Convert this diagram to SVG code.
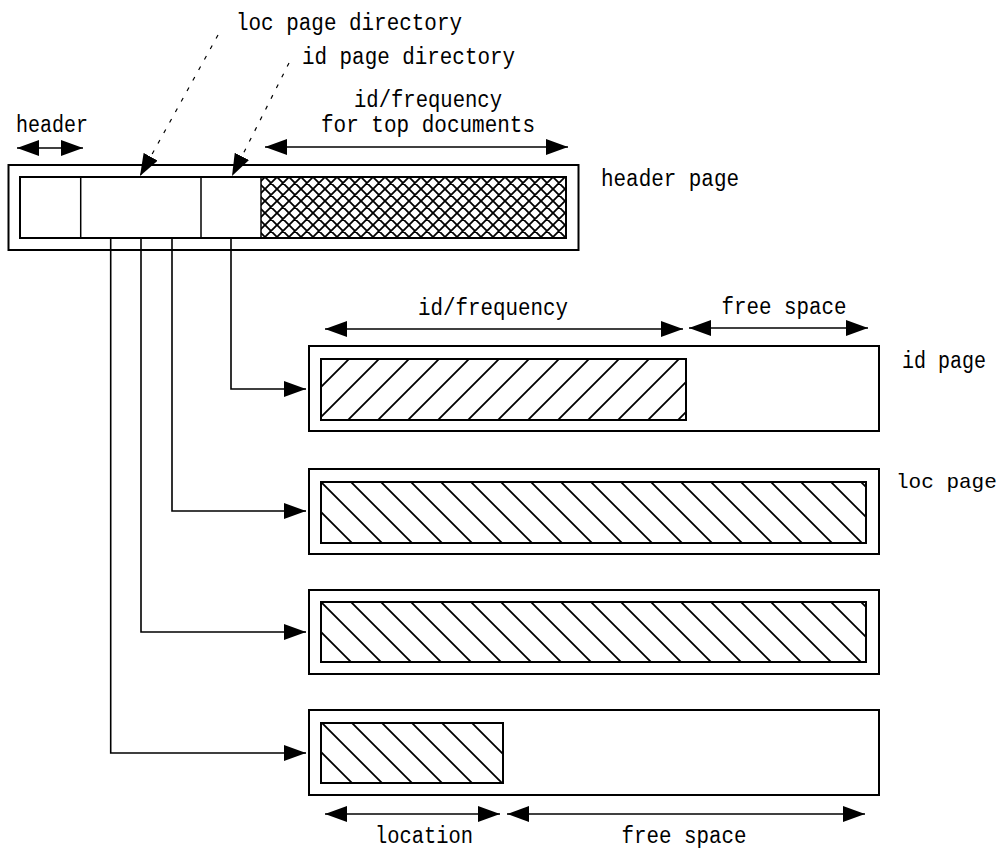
<svg xmlns="http://www.w3.org/2000/svg" width="1001" height="850" viewBox="0 0 1001 850">
  <style>
    .box { fill: #fff; stroke: #000; stroke-width: 2; }
    .inner { stroke: #000; stroke-width: 2; }
    .div { stroke: #000; stroke-width: 1.5; }
    .conn { fill: none; stroke: #000; stroke-width: 1.6; }
    .dim { stroke: #000; stroke-width: 1.5; marker-start: url(#ah); marker-end: url(#ah); }
    .dash { stroke: #000; stroke-width: 1.2; stroke-dasharray: 4 8; marker-end: url(#ah); }
    .lbl { font-family: "Liberation Mono", "DejaVu Sans Mono", monospace; font-size: 23px; fill: #000; }
  </style>
  <defs>
    <marker id="ah" viewBox="0 0 22 16" refX="22" refY="8" markerWidth="22" markerHeight="16" markerUnits="userSpaceOnUse" orient="auto-start-reverse">
      <path d="M0,0 L22,8 L0,16 z" fill="#000" stroke="none"/>
    </marker>
    <pattern id="fwd" patternUnits="userSpaceOnUse" x="18" y="0" width="30" height="30">
      <path d="M-5,35 L35,-5 M-5,5 L5,-5 M25,35 L35,25" stroke="#000" stroke-width="1.8"/>
    </pattern>
    <pattern id="back" patternUnits="userSpaceOnUse" x="19" y="0" width="30" height="30">
      <path d="M-5,-5 L35,35 M25,-5 L35,5 M-5,25 L5,35" stroke="#000" stroke-width="1.8"/>
    </pattern>
    <pattern id="cross" patternUnits="userSpaceOnUse" x="1" y="177" width="12" height="12">
      <path d="M-3,-3 L15,15 M-3,15 L15,-3 M9,-3 L15,3 M-3,9 L3,15 M9,15 L15,9 M-3,3 L3,-3" stroke="#000" stroke-width="1.8"/>
    </pattern>
  </defs>

  <g id="header-page">
    <rect class="box" x="8.5" y="165" width="570" height="85"/>
    <rect x="261" y="177" width="305" height="61" fill="url(#cross)"/>
    <rect class="inner" x="20" y="177" width="546" height="61" fill="none"/>
    <line class="div" x1="80.7" y1="177" x2="80.7" y2="238"/>
    <line class="div" x1="201" y1="177" x2="201" y2="238"/>
    <line class="div" x1="261" y1="177" x2="261" y2="238"/>
    <text class="lbl" x="601" y="186" textLength="138" lengthAdjust="spacingAndGlyphs">header page</text>
  </g>

  <g id="id-page">
    <rect class="box" x="309" y="346" width="570" height="85"/>
    <rect class="inner" x="321" y="359" width="365" height="61" fill="url(#fwd)"/>
    <text class="lbl" x="902" y="368" textLength="84" lengthAdjust="spacingAndGlyphs">id page</text>
  </g>

  <g id="loc-page-1">
    <rect class="box" x="309" y="469" width="570" height="85"/>
    <rect class="inner" x="321" y="482" width="545" height="61" fill="url(#back)"/>
    <text class="lbl" x="896" y="488" style="font-size:21px">loc page</text>
  </g>

  <g id="loc-page-2">
    <rect class="box" x="309" y="590" width="570" height="84"/>
    <rect class="inner" x="321" y="602" width="545" height="60" fill="url(#back)"/>
  </g>

  <g id="loc-page-3">
    <rect class="box" x="309" y="710" width="570" height="85"/>
    <rect class="inner" x="321" y="723" width="182" height="60" fill="url(#back)"/>
  </g>

  <g id="connectors">
    <path class="conn" d="M231,238 V389 H285"/>
    <path class="conn" d="M172,238 V511 H285"/>
    <path class="conn" d="M141,238 V632 H285"/>
    <path class="conn" d="M110.7,238 V753 H285"/>
    <line x1="284" y1="389" x2="306" y2="389" stroke="#000" stroke-width="1.6" marker-end="url(#ah)"/>
    <line x1="284" y1="511" x2="306" y2="511" stroke="#000" stroke-width="1.6" marker-end="url(#ah)"/>
    <line x1="284" y1="632" x2="306" y2="632" stroke="#000" stroke-width="1.6" marker-end="url(#ah)"/>
    <line x1="284" y1="753" x2="306" y2="753" stroke="#000" stroke-width="1.6" marker-end="url(#ah)"/>
    <line class="dash" x1="218" y1="35" x2="140" y2="176"/>
    <line class="dash" x1="289" y1="63" x2="232" y2="176"/>
  </g>

  <g id="dimensions">
    <line class="dim" x1="17" y1="148" x2="83" y2="148"/>
    <line class="dim" x1="265" y1="147" x2="568" y2="147"/>
    <line class="dim" x1="325" y1="329" x2="683" y2="329"/>
    <line class="dim" x1="689" y1="328" x2="868" y2="328"/>
    <line class="dim" x1="325" y1="814" x2="500" y2="814"/>
    <line class="dim" x1="507" y1="814" x2="865" y2="814"/>
  </g>

  <g id="labels">
    <text class="lbl" x="236" y="30" textLength="226" lengthAdjust="spacingAndGlyphs">loc page directory</text>
    <text class="lbl" x="302" y="64" textLength="213" lengthAdjust="spacingAndGlyphs">id page directory</text>
    <text class="lbl" x="428" y="107" text-anchor="middle" textLength="148" lengthAdjust="spacingAndGlyphs">id/frequency</text>
    <text class="lbl" x="428" y="132" text-anchor="middle" textLength="214" lengthAdjust="spacingAndGlyphs">for top documents</text>
    <text class="lbl" x="52" y="132" text-anchor="middle" textLength="72" lengthAdjust="spacingAndGlyphs">header</text>
    <text class="lbl" x="493" y="315" text-anchor="middle" textLength="150" lengthAdjust="spacingAndGlyphs">id/frequency</text>
    <text class="lbl" x="784" y="314" text-anchor="middle" textLength="125" lengthAdjust="spacingAndGlyphs">free space</text>
    <text class="lbl" x="424" y="843" text-anchor="middle" textLength="98" lengthAdjust="spacingAndGlyphs">location</text>
    <text class="lbl" x="684" y="843" text-anchor="middle" textLength="125" lengthAdjust="spacingAndGlyphs">free space</text>
  </g>
</svg>
